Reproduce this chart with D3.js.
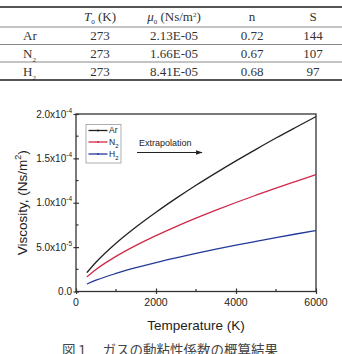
<!DOCTYPE html>
<html>
<head>
<meta charset="utf-8">
<style>
  body { margin: 0; background: #fff; }
  svg { display: block; }
</style>
</head>
<body>
<div id="chart"></div>
<script src="https://d3js.org/d3.v7.min.js"></script>
<script>
// ---- table data ----
var gases = ["Ar", "N", "H"];
var gasSubs = ["", "2", "2"];
var t0Values = ["273", "273", "273"];
var mu0Values = ["2.13E-05", "1.66E-05", "8.41E-05"];
var nValues = ["0.72", "0.67", "0.68"];
var sValues = ["144", "107", "97"];

// ---- chart data ----
var temps = [273, 500, 1000, 1500, 2000, 2500, 3000, 3500, 4000, 4500, 5000, 5500, 6000];
var arVisc = [2.13e-5, 3.29e-5, 5.43e-5, 7.26e-5, 8.93e-5, 10.49e-5, 11.97e-5, 13.37e-5, 14.72e-5, 16.02e-5, 17.29e-5, 18.51e-5, 19.71e-5];
var n2Visc = [1.66e-5, 2.49e-5, 3.96e-5, 5.20e-5, 6.30e-5, 7.32e-5, 8.27e-5, 9.17e-5, 10.03e-5, 10.85e-5, 11.65e-5, 12.41e-5, 13.16e-5];
var h2Visc = [0.84e-5, 1.27e-5, 2.03e-5, 2.68e-5, 3.26e-5, 3.79e-5, 4.29e-5, 4.77e-5, 5.22e-5, 5.65e-5, 6.07e-5, 6.48e-5, 6.87e-5];
var seriesNames = ["Ar", "N", "H"];
var seriesSubs = ["", "2", "2"];
var seriesColors = ["#222222", "#d02848", "#23399a"];

var xTicks = [0, 2000, 4000, 6000];
var xMinor = [1000, 3000, 5000];
var yTicks = [0, 5e-5, 1e-4, 1.5e-4, 2e-4];
var yTickMant = ["0.0", "5.0x10", "1.0x10", "1.5x10", "2.0x10"];
var yTickExp = ["", "-5", "-4", "-4", "-4"];
var yMinor = [2.5e-5, 7.5e-5, 1.25e-4, 1.75e-4];

var W = 342, H = 354;
var svg = d3.select("#chart").append("svg")
  .attr("width", W)
  .attr("height", H);

// ================= table =================
var serif = "'Liberation Serif', 'Times New Roman', serif";
var rowY = [16.5, 35, 53, 71];
var colX = [100, 174, 252, 313];
var lineY = [7, 27, 44.5, 62, 80];

svg.selectAll(".tline").data(lineY).enter().append("line")
  .attr("x1", 0).attr("x2", W)
  .attr("y1", function(d) { return d; })
  .attr("y2", function(d) { return d; })
  .attr("stroke", function(d, i) { return (i == 0 || i == 4) ? "#555" : "#888"; })
  .attr("stroke-width", function(d, i) { return (i == 0 || i == 4) ? 2 : 1; });

var tbl = svg.append("g")
  .style("font-family", serif)
  .style("font-size", "13px")
  .attr("fill", "#333");

// header
var h1 = tbl.append("text").attr("x", colX[0]).attr("y", rowY[0]).attr("dy", "0.35em").attr("text-anchor", "middle");
h1.append("tspan").style("font-style", "italic").text("T");
h1.append("tspan").attr("dy", 3).style("font-size", "7px").text("0");
h1.append("tspan").attr("dy", -3).text(" (K)");

var h2 = tbl.append("text").attr("x", colX[1]).attr("y", rowY[0]).attr("dy", "0.35em").attr("text-anchor", "middle");
h2.append("tspan").style("font-style", "italic").text("\u03bc");
h2.append("tspan").attr("dy", 3).style("font-size", "7px").text("0");
h2.append("tspan").attr("dy", -3).text(" (Ns/m");
h2.append("tspan").attr("dy", -4).style("font-size", "7px").text("2");
h2.append("tspan").attr("dy", 4).text(")");

tbl.append("text").attr("x", colX[2]).attr("y", rowY[0]).attr("dy", "0.35em").attr("text-anchor", "middle").text("n");
tbl.append("text").attr("x", colX[3]).attr("y", rowY[0]).attr("dy", "0.35em").attr("text-anchor", "middle").text("S");

gases.forEach(function(g, i) {
  var y = rowY[i + 1];
  var t = tbl.append("text").attr("x", 23).attr("y", y).attr("dy", "0.35em");
  t.append("tspan").text(g);
  if (gasSubs[i]) t.append("tspan").attr("dy", 4).style("font-size", "7px").text(gasSubs[i]);
  [t0Values[i], mu0Values[i], nValues[i], sValues[i]].forEach(function(v, j) {
    tbl.append("text").attr("x", colX[j]).attr("y", y).attr("dy", "0.35em")
      .attr("text-anchor", "middle").text(v);
  });
});

// ================= chart =================
var sans = "'Liberation Sans', Arial, sans-serif";
var pLeft = 76, pRight = 316, pTop = 114, pBottom = 291.5;

var x = d3.scaleLinear().domain([0, 6000]).range([pLeft, pRight]);
var y = d3.scaleLinear().domain([0, 2e-4]).range([pBottom, pTop]);

var axisColor = "#333";

// frame
svg.append("rect")
  .attr("x", pLeft).attr("y", pTop)
  .attr("width", pRight - pLeft).attr("height", pBottom - pTop)
  .attr("fill", "none").attr("stroke", axisColor).attr("stroke-width", 1.3);

// x axis ticks
var xa = svg.append("g").attr("transform", "translate(0," + pBottom + ")");
xa.call(d3.axisBottom(x).tickValues(xTicks).tickSizeOuter(0).tickFormat(""));
xa.call(function(g) {
  g.select(".domain").remove();
  g.selectAll(".tick line").attr("y1", 2.5).attr("y2", -3).attr("stroke", axisColor).attr("stroke-width", 1.2);
});
xa.selectAll(".tickm").data(xMinor).enter().append("line")
  .attr("x1", function(d) { return x(d); }).attr("x2", function(d) { return x(d); })
  .attr("y1", 0).attr("y2", -2.5)
  .attr("stroke", axisColor).attr("stroke-width", 1.2);
xa.selectAll(".xlab").data(xTicks).enter().append("text")
  .attr("x", function(d) { return x(d); })
  .attr("y", 10.5).attr("dy", "0.35em")
  .attr("text-anchor", "middle")
  .style("font-family", sans).style("font-size", "10.5px").attr("fill", "#222")
  .text(function(d) { return d; });

// y axis ticks
var ya = svg.append("g").attr("transform", "translate(" + pLeft + ",0)");
ya.call(d3.axisLeft(y).tickValues(yTicks).tickSizeOuter(0).tickFormat(""));
ya.call(function(g) {
  g.select(".domain").remove();
  g.selectAll(".tick line").attr("x1", -2.5).attr("x2", 3).attr("stroke", axisColor).attr("stroke-width", 1.2);
});
ya.selectAll(".tickm").data(yMinor).enter().append("line")
  .attr("y1", function(d) { return y(d); }).attr("y2", function(d) { return y(d); })
  .attr("x1", 0).attr("x2", 2.5)
  .attr("stroke", axisColor).attr("stroke-width", 1.2);
yTicks.forEach(function(v, i) {
  var t = ya.append("text")
    .attr("x", -4).attr("y", y(v)).attr("dy", "0.35em")
    .attr("text-anchor", "end")
    .style("font-family", sans).style("font-size", "10px").attr("fill", "#222");
  t.append("tspan").text(yTickMant[i]);
  if (yTickExp[i]) {
    t.append("tspan").attr("dy", -5).style("font-size", "6.5px").text(yTickExp[i]);
  }
});

// axis titles
svg.append("text")
  .attr("x", (pLeft + pRight) / 2).attr("y", 325).attr("dy", "0.35em")
  .attr("text-anchor", "middle")
  .style("font-family", sans).style("font-size", "13.5px").attr("fill", "#222")
  .text("Temperature (K)");

var yt = svg.append("text")
  .attr("transform", "translate(22," + ((pTop + pBottom) / 2) + ") rotate(-90)")
  .attr("dy", "0.35em")
  .attr("text-anchor", "middle")
  .style("font-family", sans).style("font-size", "13.5px").attr("fill", "#222");
yt.append("tspan").text("Viscosity, (Ns/m");
yt.append("tspan").attr("dy", -6).style("font-size", "9px").text("2");
yt.append("tspan").attr("dy", 6).text(")");

// curves
var line = d3.line()
  .x(function(d) { return x(d[0]); })
  .y(function(d) { return y(d[1]); })
  .curve(d3.curveMonotoneX);

[arVisc, n2Visc, h2Visc].forEach(function(vals, i) {
  svg.append("path")
    .datum(temps.map(function(t, k) { return [t, vals[k]]; }))
    .attr("fill", "none")
    .attr("stroke", seriesColors[i])
    .attr("stroke-width", 1.3)
    .attr("d", line);
});

// legend
var lg = svg.append("g");
lg.append("rect")
  .attr("x", 86).attr("y", 124.5).attr("width", 35).attr("height", 38.5)
  .attr("fill", "#fff").attr("stroke", "#999").attr("stroke-width", 0.8);
var legY = [130.5, 142, 154];
seriesNames.forEach(function(name, i) {
  lg.append("line")
    .attr("x1", 88.5).attr("x2", 107.5)
    .attr("y1", legY[i]).attr("y2", legY[i])
    .attr("stroke", seriesColors[i]).attr("stroke-width", 1.3);
  lg.append("circle")
    .attr("cx", 98).attr("cy", legY[i]).attr("r", 0.9)
    .attr("fill", seriesColors[i]);
  var t = lg.append("text")
    .attr("x", 109).attr("y", legY[i]).attr("dy", "0.35em")
    .style("font-family", sans).style("font-size", "8.5px").attr("fill", "#222");
  t.append("tspan").text(name);
  if (seriesSubs[i]) t.append("tspan").attr("dy", 3).style("font-size", "6px").text(seriesSubs[i]);
});

// extrapolation note
svg.append("defs").append("marker")
  .attr("id", "arrow")
  .attr("viewBox", "0 0 10 10")
  .attr("refX", 9).attr("refY", 5)
  .attr("markerWidth", 6).attr("markerHeight", 6)
  .attr("orient", "auto")
  .append("path").attr("d", "M0,1.5 L10,5 L0,8.5 Z").attr("fill", "#222");
svg.append("text")
  .attr("x", 139).attr("y", 143).attr("dy", "0.35em")
  .style("font-family", sans).style("font-size", "9px").attr("fill", "#222")
  .text("Extrapolation");
svg.append("line")
  .attr("x1", 137).attr("x2", 202)
  .attr("y1", 152.5).attr("y2", 152.5)
  .attr("stroke", "#222").attr("stroke-width", 1.1)
  .attr("marker-end", "url(#arrow)");

// caption
svg.append("text")
  .attr("x", 170).attr("y", 355)
  .attr("text-anchor", "middle")
  .style("font-family", "'Noto Sans CJK JP', sans-serif").style("font-size", "13.5px").attr("fill", "#444")
  .text("図１　ガスの動粘性係数の概算結果");
</script>
</body>
</html>
